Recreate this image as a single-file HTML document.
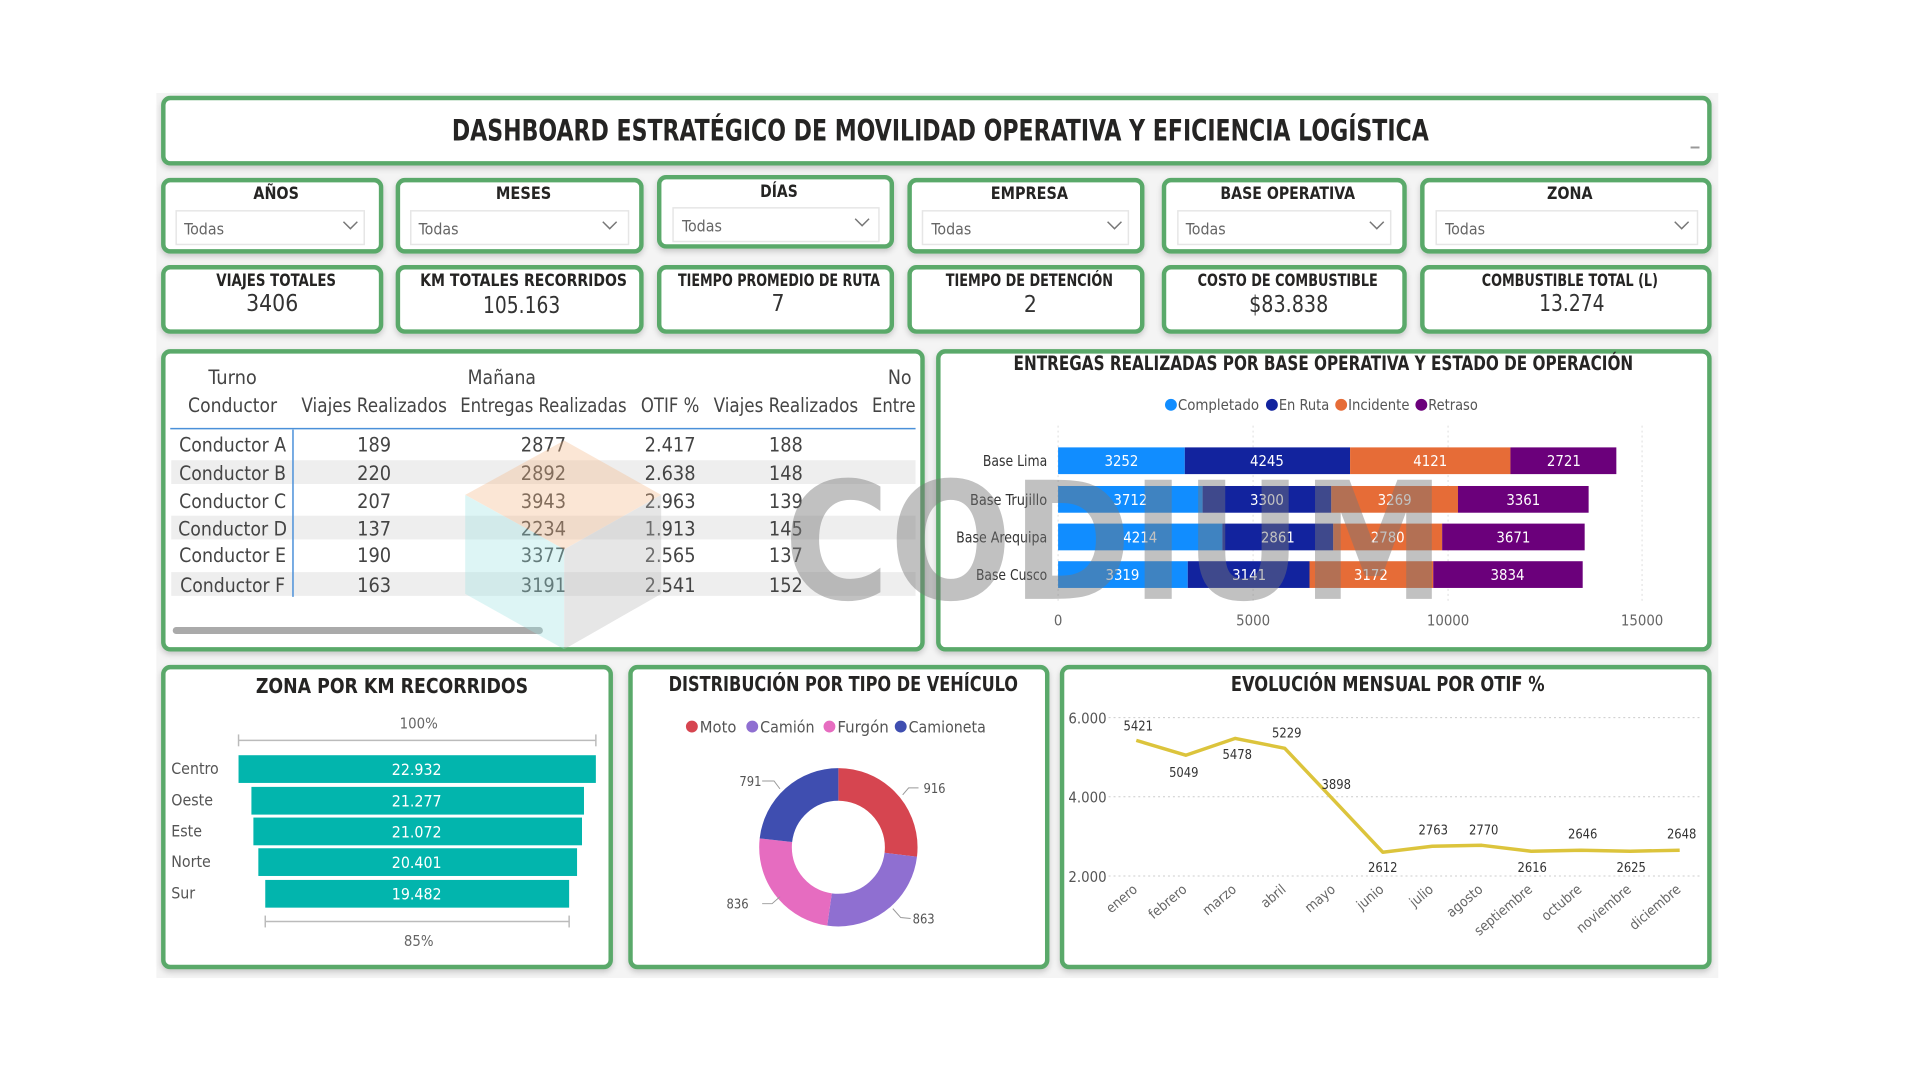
<!DOCTYPE html>
<html><head><meta charset="utf-8"><style>
html,body{margin:0;padding:0;background:#fff;}
svg{display:block}
text{font-family:"Liberation Sans Narrow","DejaVu Sans Condensed","Liberation Sans",sans-serif;}
.b{font-weight:bold;fill:#252423}
</style></head><body>
<svg width="1920" height="1080" viewBox="0 0 1920 1080" xmlns="http://www.w3.org/2000/svg">
<defs><filter id="sh" x="-5%" y="-5%" width="110%" height="120%"><feDropShadow dx="0" dy="3" stdDeviation="3" flood-color="#000" flood-opacity="0.18"/></filter></defs>
<g transform="scale(0.9898)">
<rect x="158" y="94" width="1578" height="894" fill="#f4f4f4"/>
<g fill="#fff" stroke="#5aa96a" stroke-width="4.5" filter="url(#sh)">
<rect x="165" y="99" width="1562" height="66" rx="7"/>
<rect x="165" y="182" width="220" height="72" rx="7"/>
<rect x="402" y="182" width="246" height="72" rx="7"/>
<rect x="666" y="179" width="235" height="70" rx="7"/>
<rect x="919" y="182" width="235" height="72" rx="7"/>
<rect x="1176" y="182" width="243" height="72" rx="7"/>
<rect x="1437" y="182" width="290" height="72" rx="7"/>
<rect x="165" y="270" width="220" height="65" rx="7"/>
<rect x="402" y="270" width="246" height="65" rx="7"/>
<rect x="666" y="270" width="235" height="65" rx="7"/>
<rect x="919" y="270" width="235" height="65" rx="7"/>
<rect x="1176" y="270" width="243" height="65" rx="7"/>
<rect x="1437" y="270" width="290" height="65" rx="7"/>
<rect x="165" y="355" width="767" height="301" rx="7"/>
<rect x="948" y="355" width="779" height="301" rx="7"/>
<rect x="165" y="674" width="452" height="303" rx="7"/>
<rect x="637" y="674" width="421" height="303" rx="7"/>
<rect x="1073" y="674" width="654" height="303" rx="7"/>
</g>
<text x="950" y="142" text-anchor="middle" class="b" font-size="30" textLength="987" lengthAdjust="spacingAndGlyphs">DASHBOARD ESTRATÉGICO DE MOVILIDAD OPERATIVA Y EFICIENCIA LOGÍSTICA</text>
<line x1="1708" y1="149" x2="1717" y2="149" stroke="#999" stroke-width="2"/>
<g font-size="17">
<text x="279" y="201" text-anchor="middle" class="b" textLength="46" lengthAdjust="spacingAndGlyphs">AÑOS</text>
<text x="529" y="201" text-anchor="middle" class="b" textLength="56" lengthAdjust="spacingAndGlyphs">MESES</text>
<text x="787" y="199" text-anchor="middle" class="b" textLength="38" lengthAdjust="spacingAndGlyphs">DÍAS</text>
<text x="1040" y="201" text-anchor="middle" class="b" textLength="78" lengthAdjust="spacingAndGlyphs">EMPRESA</text>
<text x="1301" y="201" text-anchor="middle" class="b" textLength="136" lengthAdjust="spacingAndGlyphs">BASE OPERATIVA</text>
<text x="1586" y="201" text-anchor="middle" class="b" textLength="46" lengthAdjust="spacingAndGlyphs">ZONA</text>
</g>
<g fill="#fff" stroke="#e6e6e6" stroke-width="1.5">
<rect x="178" y="213" width="190" height="34"/>
<rect x="415" y="213" width="220" height="34"/>
<rect x="680" y="210" width="208" height="34"/>
<rect x="932" y="213" width="208" height="34"/>
<rect x="1190" y="213" width="215" height="34"/>
<rect x="1451" y="213" width="264" height="34"/>
</g>
<g font-size="16" fill="#666" font-family="Liberation Sans">
<text x="186" y="237">Todas</text><text x="423" y="237">Todas</text><text x="689" y="234">Todas</text>
<text x="941" y="237">Todas</text><text x="1198" y="237">Todas</text><text x="1460" y="237">Todas</text>
</g>
<g fill="none" stroke="#777" stroke-width="1.5">
<polyline points="347,224 354,231 361,224"/><polyline points="609,224 616,231 623,224"/>
<polyline points="864,221 871,228 878,221"/><polyline points="1119,224 1126,231 1133,224"/>
<polyline points="1384,224 1391,231 1398,224"/><polyline points="1692,224 1699,231 1706,224"/>
</g>
<g font-size="17">
<text x="279" y="289" text-anchor="middle" class="b" textLength="121" lengthAdjust="spacingAndGlyphs">VIAJES TOTALES</text>
<text x="529" y="289" text-anchor="middle" class="b" textLength="209" lengthAdjust="spacingAndGlyphs">KM TOTALES RECORRIDOS</text>
<text x="787" y="289" text-anchor="middle" class="b" textLength="204" lengthAdjust="spacingAndGlyphs">TIEMPO PROMEDIO DE RUTA</text>
<text x="1040" y="289" text-anchor="middle" class="b" textLength="169" lengthAdjust="spacingAndGlyphs">TIEMPO DE DETENCIÓN</text>
<text x="1301" y="289" text-anchor="middle" class="b" textLength="182" lengthAdjust="spacingAndGlyphs">COSTO DE COMBUSTIBLE</text>
<text x="1586" y="289" text-anchor="middle" class="b" textLength="178" lengthAdjust="spacingAndGlyphs">COMBUSTIBLE TOTAL (L)</text>
</g>
<g font-size="23" fill="#333" font-family="Liberation Sans" text-anchor="middle">
<text x="275" y="314">3406</text><text x="527" y="316" textLength="78" lengthAdjust="spacingAndGlyphs">105.163</text><text x="786" y="314">7</text>
<text x="1041" y="315">2</text><text x="1302" y="315" textLength="80" lengthAdjust="spacingAndGlyphs">$83.838</text><text x="1588" y="314" textLength="66" lengthAdjust="spacingAndGlyphs">13.274</text>
</g>
<!-- table -->
<rect x="173" y="465" width="752" height="24" fill="#eeeeee"/>
<rect x="173" y="521" width="752" height="24" fill="#eeeeee"/>
<rect x="173" y="578" width="752" height="24" fill="#eeeeee"/>
<line x1="172" y1="433" x2="925" y2="433" stroke="#4a90d9" stroke-width="1.5"/>
<line x1="296" y1="434" x2="296" y2="603" stroke="#4a90d9" stroke-width="1.5"/>
<g font-size="20" fill="#444">
<text x="235" y="388" text-anchor="middle" textLength="49" lengthAdjust="spacingAndGlyphs">Turno</text>
<text x="507" y="388" text-anchor="middle" textLength="69" lengthAdjust="spacingAndGlyphs">Mañana</text>
<text x="897" y="388" textLength="24" lengthAdjust="spacingAndGlyphs">No</text>
<text x="235" y="416" text-anchor="middle" textLength="90" lengthAdjust="spacingAndGlyphs">Conductor</text>
<text x="378" y="416" text-anchor="middle" textLength="147" lengthAdjust="spacingAndGlyphs">Viajes Realizados</text>
<text x="549" y="416" text-anchor="middle" textLength="168" lengthAdjust="spacingAndGlyphs">Entregas Realizadas</text>
<text x="677" y="416" text-anchor="middle" textLength="59" lengthAdjust="spacingAndGlyphs">OTIF %</text>
<text x="794" y="416" text-anchor="middle" textLength="146" lengthAdjust="spacingAndGlyphs">Viajes Realizados</text>
<text x="881" y="416" textLength="44" lengthAdjust="spacingAndGlyphs">Entre</text>
</g>
<g font-size="20" fill="#444" text-anchor="middle">
<text x="235" y="456" textLength="108" lengthAdjust="spacingAndGlyphs">Conductor A</text><text x="378" y="456">189</text><text x="549" y="456">2877</text><text x="677" y="456">2.417</text><text x="794" y="456">188</text>
<text x="235" y="485" textLength="108" lengthAdjust="spacingAndGlyphs">Conductor B</text><text x="378" y="485">220</text><text x="549" y="485">2892</text><text x="677" y="485">2.638</text><text x="794" y="485">148</text>
<text x="235" y="513" textLength="108" lengthAdjust="spacingAndGlyphs">Conductor C</text><text x="378" y="513">207</text><text x="549" y="513">3943</text><text x="677" y="513">2.963</text><text x="794" y="513">139</text>
<text x="235" y="541" textLength="110" lengthAdjust="spacingAndGlyphs">Conductor D</text><text x="378" y="541">137</text><text x="549" y="541">2234</text><text x="677" y="541">1.913</text><text x="794" y="541">145</text>
<text x="235" y="568" textLength="108" lengthAdjust="spacingAndGlyphs">Conductor E</text><text x="378" y="568">190</text><text x="549" y="568">3377</text><text x="677" y="568">2.565</text><text x="794" y="568">137</text>
<text x="235" y="598" textLength="106" lengthAdjust="spacingAndGlyphs">Conductor F</text><text x="378" y="598">163</text><text x="549" y="598">3191</text><text x="677" y="598">2.541</text><text x="794" y="598">152</text>
</g>
<line x1="178" y1="637" x2="545" y2="637" stroke="#aaa" stroke-width="7" stroke-linecap="round"/>
<!-- bar chart -->
<text x="1337" y="374" text-anchor="middle" class="b" font-size="20" textLength="626" lengthAdjust="spacingAndGlyphs">ENTREGAS REALIZADAS POR BASE OPERATIVA Y ESTADO DE OPERACIÓN</text>
<g font-size="15" fill="#555">
<circle cx="1183" cy="409" r="6" fill="#118DFF"/><text x="1190" y="414" textLength="82" lengthAdjust="spacingAndGlyphs">Completado</text>
<circle cx="1285" cy="409" r="6" fill="#12239E"/><text x="1292" y="414" textLength="51" lengthAdjust="spacingAndGlyphs">En Ruta</text>
<circle cx="1355" cy="409" r="6" fill="#E66C37"/><text x="1362" y="414" textLength="62" lengthAdjust="spacingAndGlyphs">Incidente</text>
<circle cx="1436" cy="409" r="6" fill="#6B007B"/><text x="1443" y="414" textLength="50" lengthAdjust="spacingAndGlyphs">Retraso</text>
</g>
<g stroke="#ddd" stroke-dasharray="2,3"><line x1="1069" y1="430" x2="1069" y2="610"/><line x1="1266" y1="430" x2="1266" y2="610"/><line x1="1463" y1="430" x2="1463" y2="610"/><line x1="1659" y1="430" x2="1659" y2="610"/></g>
<g>
<rect x="1069" y="452" width="128" height="27" fill="#118DFF"/><rect x="1197" y="452" width="167" height="27" fill="#12239E"/><rect x="1364" y="452" width="162" height="27" fill="#E66C37"/><rect x="1526" y="452" width="107" height="27" fill="#6B007B"/>
<rect x="1069" y="491" width="146" height="27" fill="#118DFF"/><rect x="1215" y="491" width="130" height="27" fill="#12239E"/><rect x="1345" y="491" width="128" height="27" fill="#E66C37"/><rect x="1473" y="491" width="132" height="27" fill="#6B007B"/>
<rect x="1069" y="529" width="166" height="27" fill="#118DFF"/><rect x="1235" y="529" width="112" height="27" fill="#12239E"/><rect x="1347" y="529" width="110" height="27" fill="#E66C37"/><rect x="1457" y="529" width="144" height="27" fill="#6B007B"/>
<rect x="1069" y="567" width="131" height="27" fill="#118DFF"/><rect x="1200" y="567" width="123" height="27" fill="#12239E"/><rect x="1323" y="567" width="125" height="27" fill="#E66C37"/><rect x="1448" y="567" width="151" height="27" fill="#6B007B"/>
</g>
<g font-size="15" fill="#fff" text-anchor="middle">
<text x="1133" y="471">3252</text><text x="1280" y="471">4245</text><text x="1445" y="471">4121</text><text x="1580" y="471">2721</text>
<text x="1142" y="510">3712</text><text x="1280" y="510">3300</text><text x="1409" y="510">3269</text><text x="1539" y="510">3361</text>
<text x="1152" y="548">4214</text><text x="1291" y="548">2861</text><text x="1402" y="548">2780</text><text x="1529" y="548">3671</text>
<text x="1134" y="586">3319</text><text x="1262" y="586">3141</text><text x="1385" y="586">3172</text><text x="1523" y="586">3834</text>
</g>
<g font-size="15" fill="#333" text-anchor="end">
<text x="1058" y="471" textLength="65" lengthAdjust="spacingAndGlyphs">Base Lima</text><text x="1058" y="510" textLength="78" lengthAdjust="spacingAndGlyphs">Base Trujillo</text><text x="1058" y="548" textLength="92" lengthAdjust="spacingAndGlyphs">Base Arequipa</text><text x="1058" y="586" textLength="72" lengthAdjust="spacingAndGlyphs">Base Cusco</text>
</g>
<g font-size="15" fill="#666" text-anchor="middle">
<text x="1069" y="632">0</text><text x="1266" y="632">5000</text><text x="1463" y="632">10000</text><text x="1659" y="632">15000</text>
</g>
<!-- watermark -->
<g opacity="0.35">
<polygon points="570,445 668,500 570,555 470,500" fill="#f6b98a"/>
<polygon points="470,500 570,555 570,656 470,600" fill="#9fe3e3"/>
<polygon points="570,555 668,500 668,600 570,656" fill="#b8b8b8"/>
</g>
<text x="792" y="605" font-family="Liberation Sans" font-weight="bold" font-size="165" fill="#777" opacity="0.45" textLength="668" lengthAdjust="spacingAndGlyphs">CODIUM</text>
<!-- zona -->
<text x="396" y="700" text-anchor="middle" class="b" font-size="21" textLength="275" lengthAdjust="spacingAndGlyphs">ZONA POR KM RECORRIDOS</text>
<text x="423" y="736" text-anchor="middle" font-size="15" fill="#666">100%</text>
<g stroke="#bbb" stroke-width="1.5"><line x1="241" y1="748" x2="602" y2="748"/><line x1="241" y1="742" x2="241" y2="754"/><line x1="602" y1="742" x2="602" y2="754"/>
<line x1="268" y1="931" x2="575" y2="931"/><line x1="268" y1="925" x2="268" y2="937"/><line x1="575" y1="925" x2="575" y2="937"/></g>
<g fill="#02b5ad">
<rect x="241" y="763" width="361" height="28"/><rect x="254" y="795" width="336" height="28"/><rect x="256" y="826" width="332" height="28"/><rect x="261" y="857" width="322" height="28"/><rect x="268" y="889" width="307" height="28"/>
</g>
<g font-size="16" fill="#fff" text-anchor="middle">
<text x="421" y="783">22.932</text><text x="421" y="815">21.277</text><text x="421" y="846">21.072</text><text x="421" y="877">20.401</text><text x="421" y="909">19.482</text>
</g>
<g font-size="16" fill="#555">
<text x="173" y="782">Centro</text><text x="173" y="814">Oeste</text><text x="173" y="845">Este</text><text x="173" y="876">Norte</text><text x="173" y="908">Sur</text>
</g>
<text x="423" y="956" text-anchor="middle" font-size="15" fill="#666">85%</text>
<!-- donut -->
<text x="852" y="698" text-anchor="middle" class="b" font-size="21" textLength="353" lengthAdjust="spacingAndGlyphs">DISTRIBUCIÓN POR TIPO DE VEHÍCULO</text>
<g font-size="16" fill="#555">
<circle cx="699" cy="734" r="6" fill="#D64550"/><text x="707" y="740" textLength="37" lengthAdjust="spacingAndGlyphs">Moto</text>
<circle cx="760" cy="734" r="6" fill="#8f6fd1"/><text x="768" y="740" textLength="55" lengthAdjust="spacingAndGlyphs">Camión</text>
<circle cx="838" cy="734" r="6" fill="#E66CC0"/><text x="846" y="740" textLength="52" lengthAdjust="spacingAndGlyphs">Furgón</text>
<circle cx="910" cy="734" r="6" fill="#3F4EB0"/><text x="918" y="740" textLength="78" lengthAdjust="spacingAndGlyphs">Camioneta</text>
</g>
<g transform="rotate(-90 847 856)" fill="none" stroke-width="33">
<circle cx="847" cy="856" r="63.5" stroke="#D64550" stroke-dasharray="107.3 400"/>
<circle cx="847" cy="856" r="63.5" stroke="#8f6fd1" stroke-dasharray="0 107.3 101.1 400"/>
<circle cx="847" cy="856" r="63.5" stroke="#E66CC0" stroke-dasharray="0 208.4 97.9 400"/>
<circle cx="847" cy="856" r="63.5" stroke="#3F4EB0" stroke-dasharray="0 306.3 92.7 400"/>
</g>
<g stroke="#999" fill="none"><polyline points="770,789 782,789 788,797"/><polyline points="912,803 918,796 928,796"/><polyline points="902,918 910,927 920,928"/><polyline points="788,906 780,913 770,913"/></g>
<g font-size="13" fill="#555"><text x="747" y="794">791</text><text x="933" y="801">916</text><text x="922" y="933">863</text><text x="734" y="918">836</text></g>
<!-- line -->
<text x="1402" y="698" text-anchor="middle" class="b" font-size="21" textLength="317" lengthAdjust="spacingAndGlyphs">EVOLUCIÓN MENSUAL POR OTIF %</text>
<g stroke="#ccc" stroke-dasharray="2,3"><line x1="1120" y1="725" x2="1717" y2="725"/><line x1="1120" y1="805" x2="1717" y2="805"/><line x1="1120" y1="885" x2="1717" y2="885"/></g>
<g font-size="15" fill="#555" text-anchor="end"><text x="1118" y="731">6.000</text><text x="1118" y="811">4.000</text><text x="1118" y="891">2.000</text></g>
<polyline fill="none" stroke="#dcc43c" stroke-width="3.5" stroke-linejoin="round" points="1148,748 1198,763 1248,746 1298,756 1348,809 1397,861 1447,855 1497,854 1547,860 1597,859 1647,860 1697,859"/>
<g font-size="13" fill="#333" text-anchor="middle">
<text x="1150" y="738">5421</text><text x="1196" y="785">5049</text><text x="1250" y="767">5478</text><text x="1300" y="745">5229</text><text x="1350" y="797">3898</text>
<text x="1397" y="881">2612</text><text x="1448" y="843">2763</text><text x="1499" y="843">2770</text><text x="1548" y="881">2616</text><text x="1599" y="847">2646</text><text x="1648" y="881">2625</text><text x="1699" y="847">2648</text>
</g>
<g font-size="14" fill="#666" text-anchor="end">
<text transform="translate(1150 900) rotate(-40)">enero</text>
<text transform="translate(1200 900) rotate(-40)">febrero</text>
<text transform="translate(1250 900) rotate(-40)">marzo</text>
<text transform="translate(1300 900) rotate(-40)">abril</text>
<text transform="translate(1350 900) rotate(-40)">mayo</text>
<text transform="translate(1399 900) rotate(-40)">junio</text>
<text transform="translate(1449 900) rotate(-40)">julio</text>
<text transform="translate(1499 900) rotate(-40)">agosto</text>
<text transform="translate(1549 900) rotate(-40)">septiembre</text>
<text transform="translate(1599 900) rotate(-40)">octubre</text>
<text transform="translate(1649 900) rotate(-40)">noviembre</text>
<text transform="translate(1699 900) rotate(-40)">diciembre</text>
</g>
</g>
</svg>
</body></html>
